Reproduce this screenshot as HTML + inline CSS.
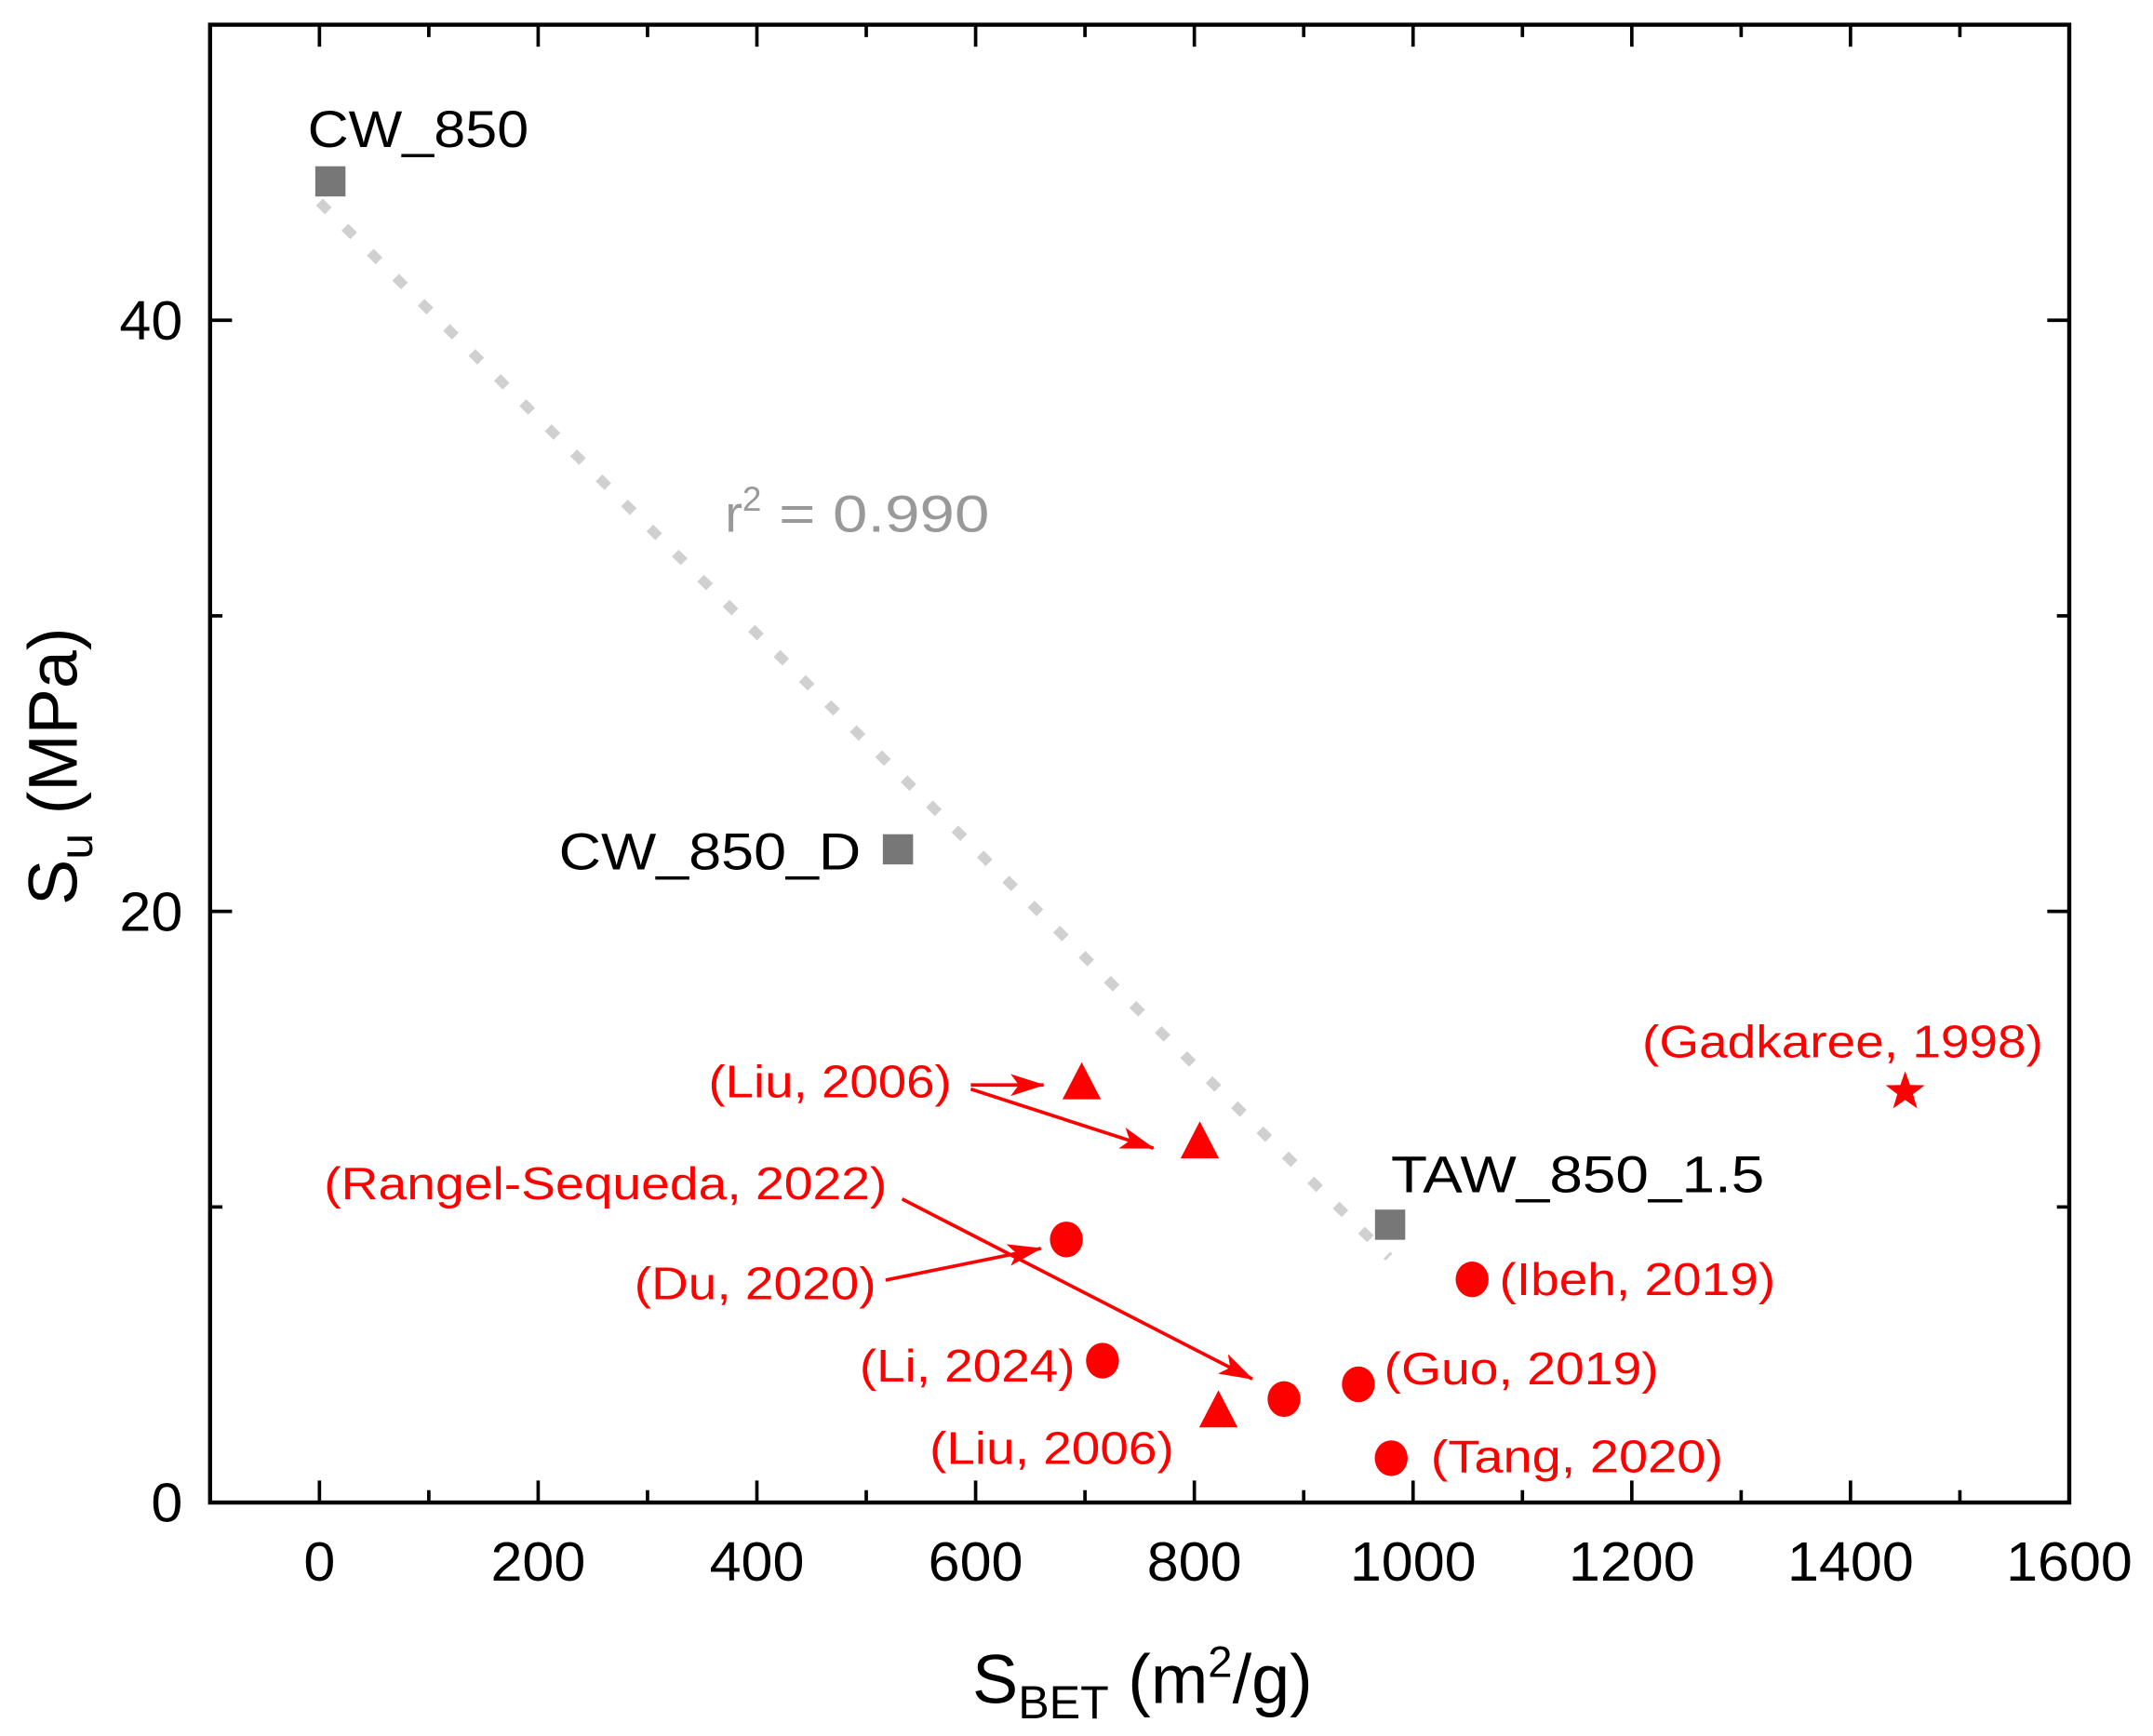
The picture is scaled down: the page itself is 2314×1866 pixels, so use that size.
<!DOCTYPE html>
<html><head><meta charset="utf-8"><style>
html,body{margin:0;padding:0;background:#fff}
svg{display:block;font-family:"Liberation Sans",Arial,sans-serif}
</style></head><body>
<svg id="chart" width="2314" height="1866" viewBox="0 0 1568 1264" preserveAspectRatio="none" xmlns="http://www.w3.org/2000/svg">
<defs>
<marker id="ah" markerWidth="26" markerHeight="16" refX="24" refY="8" orient="auto" markerUnits="userSpaceOnUse"><path d="M0,0 L25,8 L0,16 L6,8 Z" fill="#f00"/></marker>
</defs>
<g id="axes"></g>
<g id="marks"></g>
<g id="labels"></g>
</svg>
<script>
// data
const squareNames = ["CW_850", "CW_850_D", "TAW_850_1.5"];
const squareX = [10, 529, 979];
const squareY = [44.7, 22.1, 9.4];
const triangleX = [697, 805, 822];
const triangleY = [14.2, 12.2, 3.1];
const circleX = [683, 716, 882, 950, 980, 1054];
const circleY = [8.9, 4.8, 3.5, 4.0, 1.5, 7.55];
const starX = [1450];
const starY = [13.9];
const fitX = [0, 978];
const fitY = [44.0, 8.3];
const xTicks = [0, 200, 400, 600, 800, 1000, 1200, 1400, 1600];
const yTicks = [0, 20, 40];
const xMin = -100, xMax = 1600, yMin = 0, yMax = 50;

const L = 153, R = 1507, T = 18, B = 1094;
const sx = v => L + (v - xMin) / (xMax - xMin) * (R - L);
const sy = v => B - (v - yMin) / (yMax - yMin) * (B - T);
const NS = "http://www.w3.org/2000/svg";
function mk(tag, attrs, parent, txt) {
  const e = document.createElementNS(NS, tag);
  for (const k in attrs) e.setAttribute(k, attrs[k]);
  if (txt !== undefined) e.textContent = txt;
  parent.appendChild(e);
  return e;
}
const axes = document.getElementById('axes');
const marks = document.getElementById('marks');
const labels = document.getElementById('labels');

const frame = mk('rect', {x: L, y: T, width: R - L, height: B - T, fill: 'none', stroke: '#000', 'stroke-width': 3}, axes);


for (let v = -100; v <= 1600; v += 100) {
  if (v === -100) continue;
  const major = v % 200 === 0;
  const len = major ? 16 : 9;
  const x = sx(v);
  const t1 = mk('line', {x1: x, y1: B, x2: x, y2: B - len, stroke: '#000', 'stroke-width': 2.5}, axes);
  
  
  if (v < 1600) {
    const t2 = mk('line', {x1: x, y1: T, x2: x, y2: T + len, stroke: '#000', 'stroke-width': 2.5}, axes);
    
    
  }
}
xTicks.forEach(v => {
  const s = String(v);
  const t = mk('text', {x: sx(v), y: 1151, 'font-size': 40, 'text-anchor': 'middle', fill: '#000', textLength: s.length * 23, lengthAdjust: 'spacingAndGlyphs'}, axes, s);
  
  
});
for (let v = 10; v < 50; v += 10) {
  const major = v % 20 === 0;
  const len = major ? 16 : 9;
  const y = sy(v);
  const t1 = mk('line', {x1: L, y1: y, x2: L + len, y2: y, stroke: '#000', 'stroke-width': 2.5}, axes);
  
  
  const t2 = mk('line', {x1: R, y1: y, x2: R - len, y2: y, stroke: '#000', 'stroke-width': 2.5}, axes);
  
  
}
yTicks.forEach(v => {
  const s = String(v);
  const t = mk('text', {x: 133, y: sy(v) + 14, 'font-size': 40, 'text-anchor': 'end', fill: '#000', textLength: s.length * 23, lengthAdjust: 'spacingAndGlyphs'}, axes, s);
  
  
});
const xt = mk('text', {x: 832, y: 1240, 'font-size': 50, 'text-anchor': 'middle', fill: '#000'}, axes);


xt.innerHTML = 'S<tspan font-size="34" dy="11">BET</tspan><tspan dy="-11"> (m</tspan><tspan font-size="32" dy="-19">2</tspan><tspan dy="19">/g)</tspan>';
const yt = mk('text', {x: 0, y: 0, 'font-size': 50, 'text-anchor': 'middle', fill: '#000', transform: 'translate(56,558) rotate(-90)'}, axes);


yt.innerHTML = 'S<tspan font-size="34" dy="11">u</tspan><tspan dy="-11"> (MPa)</tspan>';

const fit = mk('line', {x1: sx(fitX[0]), y1: sy(fitY[0]), x2: sx(fitX[1]), y2: sy(fitY[1]), stroke: '#d0d0d0', 'stroke-width': 7, 'stroke-dasharray': '9 17'}, marks);



squareX.forEach((v, i) => {
  const s = mk('rect', {x: sx(v) - 11, y: sy(squareY[i]) - 11, width: 22, height: 22, fill: '#777'}, marks);
  
  
});
triangleX.forEach((v, i) => {
  const x = sx(v), y = sy(triangleY[i]);
  const t = mk('polygon', {points: `${x},${y - 15} ${x - 14},${y + 12} ${x + 14},${y + 12}`, fill: '#f00'}, marks);
  
  
});
circleX.forEach((v, i) => {
  const c = mk('ellipse', {cx: sx(v), cy: sy(circleY[i]), rx: 12, ry: 13, fill: '#f00'}, marks);
  
  
});
starX.forEach((v, i) => {
  const cx = sx(v), cy = sy(starY[i]);
  let pts = [];
  for (let k = 0; k < 10; k++) {
    const r = k % 2 ? 6 : 15, a = -Math.PI / 2 + k * Math.PI / 5;
    pts.push((cx + r * Math.cos(a)).toFixed(1) + ',' + (cy + r * Math.sin(a)).toFixed(1));
  }
  const s = mk('polygon', {points: pts.join(' '), fill: '#f00'}, marks);
  
  
});

const arrows = [[707, 790, 760, 790], [707, 793, 840, 836], [657, 873, 912, 1004], [645, 932, 758, 909]];
arrows.forEach(a => {
  const l = mk('line', {x1: a[0], y1: a[1], x2: a[2], y2: a[3], stroke: '#f00', 'stroke-width': 2.5, 'marker-end': 'url(#ah)'}, labels);
  
  
});

const blk = [["CW_850", 224, 107, 'start', 161], ["CW_850_D", 627, 633, 'end', 220], ["TAW_850_1.5", 1013, 868, 'start', 272]];
blk.forEach(b => {
  const t = mk('text', {x: b[1], y: b[2], 'font-size': 38, 'text-anchor': b[3], fill: '#000', textLength: b[4], lengthAdjust: 'spacingAndGlyphs'}, labels, b[0]);
  
  
});
const r2 = mk('text', {x: 528, y: 387, 'font-size': 38, fill: '#999'}, labels);


r2.innerHTML = 'r<tspan font-size="25" dy="-15">2</tspan><tspan dy="15" textLength="166" lengthAdjust="spacingAndGlyphs"> = 0.990</tspan>';
const red = [["(Gadkaree, 1998)", 1196, 770, 292], ["(Liu, 2006)", 516, 799, 177], ["(Rangel-Sequeda, 2022)", 236, 873, 410],
  ["(Du, 2020)", 462, 946, 176], ["(Ibeh, 2019)", 1092, 943, 201], ["(Li, 2024)", 626, 1006, 157],
  ["(Guo, 2019)", 1008, 1008, 200], ["(Liu, 2006)", 677, 1066, 178], ["(Tang, 2020)", 1042, 1072, 213]];
red.forEach(r => {
  const t = mk('text', {x: r[1], y: r[2], 'font-size': 33, fill: '#f00', textLength: r[3], lengthAdjust: 'spacingAndGlyphs'}, labels, r[0]);
  
  
});
</script>
</body></html>
